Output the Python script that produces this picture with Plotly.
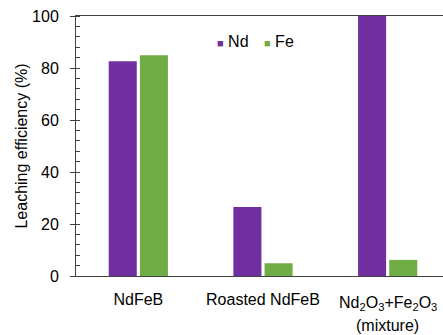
import plotly.graph_objects as go

categories = ["NdFeB", "Roasted NdFeB", "Nd2O3+Fe2O3 (mixture)"]
tick_labels = ["NdFeB", "Roasted NdFeB", ""]
mixture_label_lines = ["Nd<sub>2</sub>O<sub>3</sub>+Fe<sub>2</sub>O<sub>3</sub>", "(mixture)"]
nd_values = [82.6, 26.5, 100.0]
fe_values = [84.9, 4.9, 6.2]
series_names = ["Nd", "Fe"]
series_colors = ["#7030A0", "#70AD47"]

FONT = "Arial, Liberation Sans, sans-serif"

fig = go.Figure()
for name, vals, col in zip(series_names, [nd_values, fe_values], series_colors):
    fig.add_trace(go.Bar(name=name, x=categories, y=vals, marker_color=col,
                         marker_line_width=0, showlegend=False))

# legend drawn as text annotations (coloured square + name)
legend_x = [0.378, 0.508]
for name, col, lx in zip(series_names, series_colors, legend_x):
    fig.add_annotation(
        xref="paper", yref="paper", x=lx, y=0.9, xanchor="left", yanchor="middle",
        text=f"<span style='color:{col};font-size:11px'>■</span> {name}",
        showarrow=False, font=dict(family=FONT, size=16, color="black"),
    )

# two-line category label for the mixture, drawn under its category
for line, ly in zip(mixture_label_lines, [-0.106, -0.19]):
    fig.add_annotation(
        xref="x", yref="paper", x=categories[2], y=ly, xanchor="center", yanchor="middle",
        text=line, showarrow=False, font=dict(family=FONT, size=16, color="black"),
        borderpad=0,
    )

fig.update_layout(
    width=443, height=335,
    margin=dict(l=76, r=0, t=16, b=59, autoexpand=False),
    paper_bgcolor="white", plot_bgcolor="white",
    barmode="group", bargap=0.5, bargroupgap=0.1,
    font=dict(family=FONT, size=16, color="black"),
    showlegend=False,
)
fig.update_xaxes(
    range=[-0.5, 2.444], showline=True, linecolor="#404040", linewidth=1.2,
    mirror=True, ticks="", showgrid=False, tickfont=dict(size=16),
    tickmode="array", tickvals=categories, ticktext=tick_labels,
    automargin=False, ticklabelstandoff=9,
)
fig.update_yaxes(
    range=[0, 100], dtick=20, showline=True, linecolor="#404040", linewidth=1,
    ticks="outside", ticklen=5, tickcolor="#404040", showgrid=False,
    minor=dict(dtick=4, ticks="inside", ticklen=4, tickcolor="#404040", showgrid=False),
    title=dict(text="Leaching efficiency (%)", font=dict(size=16), standoff=0),
    tickfont=dict(size=16), zeroline=False, automargin=False, ticklabelstandoff=8,
)
fig.write_html("out.html", config={"displayModeBar": False},
               post_script="document.body.style.margin='0';")
